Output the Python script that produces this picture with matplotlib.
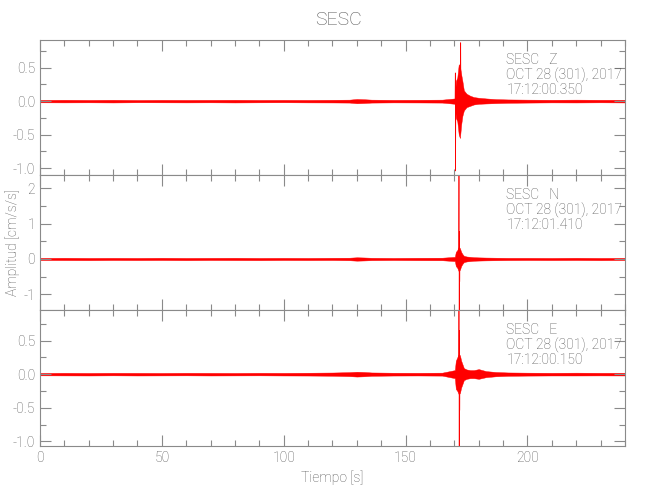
import matplotlib
matplotlib.use("Agg")
import matplotlib.pyplot as plt
from matplotlib.ticker import MultipleLocator, FormatStrFormatter

plt.rcParams['font.family'] = ['Roboto', 'DejaVu Sans']
plt.rcParams['font.weight'] = 'light'
plt.rcParams['axes.labelweight'] = 'light'

# time grid (s) for the trace envelopes
t_env = [0, 10, 20, 30, 40, 50, 60, 70, 80, 90, 100, 110, 120,
         127, 130, 133, 136, 145, 155, 165,
         170.2, 170.6, 171.2, 171.8, 172.3, 172.8, 173.3, 173.9,
         175, 176.5, 178, 180, 183, 187, 192,
         200, 210, 220, 230, 240]

# Z component (cm/s/s)
up_z = [0.018, 0.02, 0.018, 0.02, 0.017, 0.019, 0.018, 0.019, 0.02, 0.018, 0.019, 0.018, 0.02,
        0.022, 0.032, 0.028, 0.022, 0.019, 0.02, 0.022,
        0.04, 0.3, 0.35, 0.55, 0.52, 0.4, 0.3, 0.16,
        0.11, 0.08, 0.06, 0.05, 0.04, 0.03, 0.025,
        0.022, 0.02, 0.022, 0.02, 0.02]
lo_z = [-0.018, -0.019, -0.018, -0.02, -0.017, -0.018, -0.019, -0.018, -0.02, -0.018, -0.017, -0.019, -0.02,
        -0.022, -0.032, -0.028, -0.022, -0.019, -0.02, -0.022,
        -0.04, -0.25, -0.3, -0.5, -0.55, -0.35, -0.22, -0.14,
        -0.09, -0.07, -0.05, -0.04, -0.035, -0.03, -0.025,
        -0.022, -0.019, -0.02, -0.018, -0.02]
spk_t_z = [170.3, 170.4, 170.5, 170.6, 172.5, 172.6, 172.7]
spk_z = [0.0, 0.42, -1.04, 0.0, 0.0, 0.87, 0.0]

# N component
up_n = [0.03, 0.034, 0.03, 0.032, 0.03, 0.034, 0.03, 0.032, 0.034, 0.03, 0.032, 0.03, 0.034,
        0.036, 0.048, 0.042, 0.034, 0.03, 0.034, 0.036,
        0.06, 0.2, 0.25, 0.35, 0.3, 0.2, 0.14, 0.09,
        0.07, 0.06, 0.05, 0.045, 0.04, 0.036, 0.032,
        0.032, 0.03, 0.034, 0.03, 0.032]
lo_n = [-0.03, -0.032, -0.034, -0.03, -0.032, -0.03, -0.034, -0.03, -0.032, -0.034, -0.03, -0.032, -0.03,
        -0.036, -0.048, -0.042, -0.034, -0.03, -0.034, -0.036,
        -0.06, -0.2, -0.25, -0.35, -0.3, -0.2, -0.14, -0.09,
        -0.07, -0.06, -0.05, -0.045, -0.04, -0.036, -0.032,
        -0.03, -0.032, -0.03, -0.034, -0.03]
spk_t_n = [171.8, 171.9, 172.0, 172.1, 172.2, 172.3]
spk_n = [0.0, 2.6, -1.7, 0.77, -0.64, 0.0]

# E component
up_e = [0.018, 0.02, 0.018, 0.02, 0.019, 0.018, 0.02, 0.019, 0.018, 0.02, 0.019, 0.021, 0.024,
        0.03, 0.036, 0.032, 0.025, 0.021, 0.02, 0.022,
        0.06, 0.2, 0.25, 0.3, 0.28, 0.2, 0.15, 0.09,
        0.07, 0.06, 0.06, 0.075, 0.045, 0.032, 0.025,
        0.022, 0.02, 0.022, 0.02, 0.02]
lo_e = [-0.018, -0.019, -0.02, -0.018, -0.02, -0.019, -0.018, -0.02, -0.019, -0.018, -0.02, -0.021, -0.024,
        -0.03, -0.036, -0.032, -0.025, -0.021, -0.02, -0.022,
        -0.06, -0.22, -0.25, -0.3, -0.28, -0.2, -0.15, -0.09,
        -0.07, -0.06, -0.06, -0.07, -0.045, -0.032, -0.025,
        -0.022, -0.02, -0.02, -0.019, -0.02]
spk_t_e = [171.8, 171.9, 172.0, 172.1, 172.2, 172.3]
spk_e = [0.0, 1.2, -1.2, 0.65, -0.54, 0.0]

components = ["Z", "N", "E"]
start_times = ["17:12:00.350", "17:12:01.410", "17:12:00.150"]
date_text = "OCT 28 (301), 2017"
station = "SESC"

traces = [(up_z, lo_z, spk_t_z, spk_z), (up_n, lo_n, spk_t_n, spk_n), (up_e, lo_e, spk_t_e, spk_e)]
ylims = [(-1.1, 0.91), (-1.44, 2.37), (-1.07, 0.955)]
ymajor = [0.5, 1.0, 0.5]
yminor = [0.25, 0.5, 0.25]
yfmt = ['%.1f', '%d', '%.1f']

grey = '#8a8a8a'
txt = '#555555'

fig = plt.figure(figsize=(6.5, 5), dpi=100)
boxes = [[0.0615, 0.65, 0.9, 0.27], [0.0615, 0.38, 0.9, 0.27], [0.0615, 0.108, 0.9, 0.272]]

for i in range(3):
  ax = fig.add_axes(boxes[i])
  up, lo, st, sv = traces[i]
  ax.fill_between(t_env, lo, up, color='#ff0000', lw=0.3)
  ax.plot(st, sv, color='#ff0000', lw=0.5)
  ax.set_xlim(0, 240)
  ax.set_ylim(*ylims[i])
  ax.xaxis.set_major_locator(MultipleLocator(50))
  ax.xaxis.set_minor_locator(MultipleLocator(10))
  ax.yaxis.set_major_locator(MultipleLocator(ymajor[i]))
  ax.yaxis.set_minor_locator(MultipleLocator(yminor[i]))
  ax.yaxis.set_major_formatter(FormatStrFormatter(yfmt[i]))
  ax.tick_params(which='both', direction='in', top=True, right=True, colors=grey,
                 labelcolor=txt, labelsize=10, width=0.8)
  ax.tick_params(which='major', length=8)
  ax.tick_params(which='minor', length=4)
  for s in ax.spines.values():
    s.set_color(grey)
    s.set_linewidth(0.8)
  if i < 2:
    ax.set_xticklabels([])
  else:
    ax.set_xlabel("Tiempo [s]", color=txt, fontsize=10, labelpad=4, fontweight='light')
  ax.text(0.797, 0.852, station + "   " + components[i], transform=ax.transAxes,
          color=txt, fontsize=10, va='center', ha='left')
  ax.text(0.797, 0.741, date_text, transform=ax.transAxes,
          color=txt, fontsize=10, va='center', ha='left')
  ax.text(0.797, 0.630, start_times[i], transform=ax.transAxes,
          color=txt, fontsize=10, va='center', ha='left')

fig.text(0.52, 0.96, station, color=txt, fontsize=14, ha='center', va='center')
fig.text(0.02, 0.515, "Amplitud [cm/s/s]", color=txt, fontsize=10, rotation=90,
         ha='center', va='center')

fig.savefig("out.png", dpi=100)
